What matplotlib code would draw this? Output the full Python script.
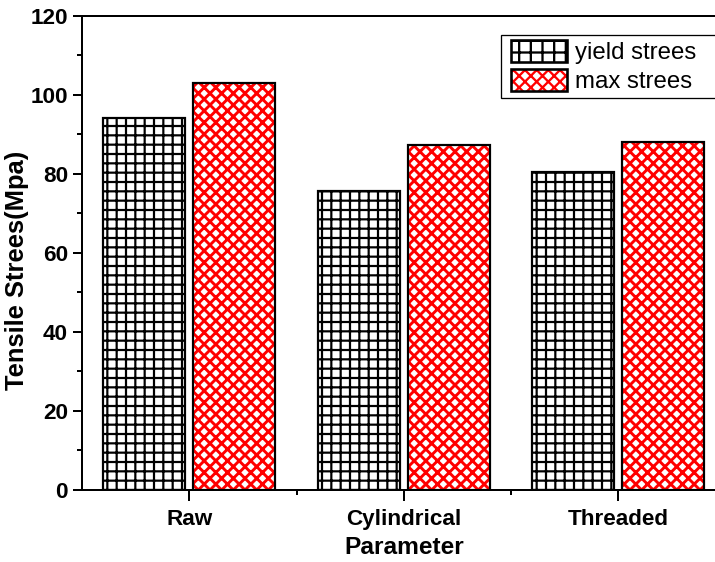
import matplotlib
matplotlib.use('Agg')
import matplotlib.pyplot as plt
import numpy as np
from matplotlib.patches import Patch, Rectangle
from matplotlib.legend_handler import HandlerBase
from matplotlib.ticker import MultipleLocator, FixedLocator

categories = ['Raw', 'Cylindrical', 'Threaded']
yield_stress = [94.2, 75.7, 80.3]
max_stress = [103.0, 87.3, 88.1]
series_labels = ['yield strees', 'max strees']
y_ticks = [0, 20, 40, 60, 80, 100, 120]

DPI = 280
W, H = 715, 562


def pt(px):
    return px * 72.0 / DPI


plt.rcParams['font.family'] = ['Liberation Sans', 'DejaVu Sans']

fig = plt.figure(figsize=(W / DPI, H / DPI), dpi=DPI)
ax_l, ax_r, ax_t, ax_b = 82, 725.5, 15.5, 490
ax = fig.add_axes([ax_l / W, 1 - ax_b / H, (ax_r - ax_l) / W, (ax_b - ax_t) / H])

x = np.arange(len(categories))
off, w = 0.21, 0.382

GRID_HATCH = '+++++'
X_HATCH = 'xxxxxxxx'

plt.rcParams['hatch.linewidth'] = pt(2.2)
ax.bar(x - off, yield_stress, w, color='white', edgecolor='black',
       hatch=GRID_HATCH, linewidth=pt(2.2), zorder=2)
plt.rcParams['hatch.linewidth'] = pt(2.9)
ax.bar(x + off, max_stress, w, color='white', edgecolor='red',
       hatch=X_HATCH, linewidth=0, zorder=2)
ax.bar(x + off, max_stress, w, fill=False, edgecolor='black',
       linewidth=pt(2.2), zorder=3)

ax.set_xlim(-0.5, 2.5)
ax.set_ylim(0, 120)
ax.set_yticks(y_ticks)
ax.yaxis.set_minor_locator(MultipleLocator(10))
ax.set_xticks(x)
ax.set_xticklabels(categories)
ax.xaxis.set_minor_locator(FixedLocator([0.5, 1.5]))

for s in ['left', 'bottom', 'top']:
    ax.spines[s].set_linewidth(pt(2))
ax.spines['right'].set_visible(False)

ax.tick_params(which='major', direction='out', length=pt(9), width=pt(2),
               labelsize=pt(22.5), pad=pt(5))
ax.tick_params(axis='x', which='major', length=pt(11), pad=pt(8))
ax.tick_params(which='minor', direction='out', length=pt(5), width=pt(2))
ax.tick_params(top=False, right=False, which='both')
for lbl in ax.get_xticklabels() + ax.get_yticklabels():
    lbl.set_fontweight('bold')

fig.text(17 / W, 1 - 270 / H, 'Tensile Strees(Mpa)', rotation=90,
         ha='center', va='center', fontsize=pt(25.5), fontweight='bold')
fig.text(404 / W, 1 - 548 / H, 'Parameter', ha='center', va='center',
         fontsize=pt(24.5), fontweight='bold')


class LayeredHandler(HandlerBase):
    def __init__(self, layers, dx):
        super().__init__()
        self.layers = layers
        self.dx = dx

    def create_artists(self, legend, orig_handle, xdescent, ydescent,
                       width, height, fontsize, trans):
        arts = []
        for kw in self.layers:
            r = Rectangle((-xdescent + self.dx, -ydescent), width - self.dx,
                          height, transform=trans, **kw)
            arts.append(r)
        return arts


fs = 24
dx = pt(5)
h1 = Patch(facecolor='white', edgecolor='black')
h2 = Patch(facecolor='white', edgecolor='red')
plt.rcParams['hatch.linewidth'] = pt(2.3)
handler1 = LayeredHandler([
    dict(facecolor='white', edgecolor='black', hatch='++++', linewidth=pt(2.6)),
], dx)
handler2 = LayeredHandler([
    dict(facecolor='white', edgecolor='red', hatch='xxxxxxxx', linewidth=0),
    dict(fill=False, edgecolor='black', linewidth=pt(2.6)),
], dx)
leg = fig.legend([h1, h2], series_labels,
                 handler_map={h1: handler1, h2: handler2},
                 loc='upper left', bbox_to_anchor=(501 / W, 0, 240 / W, 1 - 35 / H),
                 mode='expand', frameon=True, fancybox=False, shadow=False,
                 edgecolor='black', framealpha=1, fontsize=pt(fs),
                 handlelength=61 / fs, handleheight=25 / fs,
                 handletextpad=8 / fs, borderpad=0.2, labelspacing=0.2,
                 borderaxespad=0)
leg.get_frame().set_linewidth(pt(1.3))

fig.savefig('out.png', dpi=DPI)
